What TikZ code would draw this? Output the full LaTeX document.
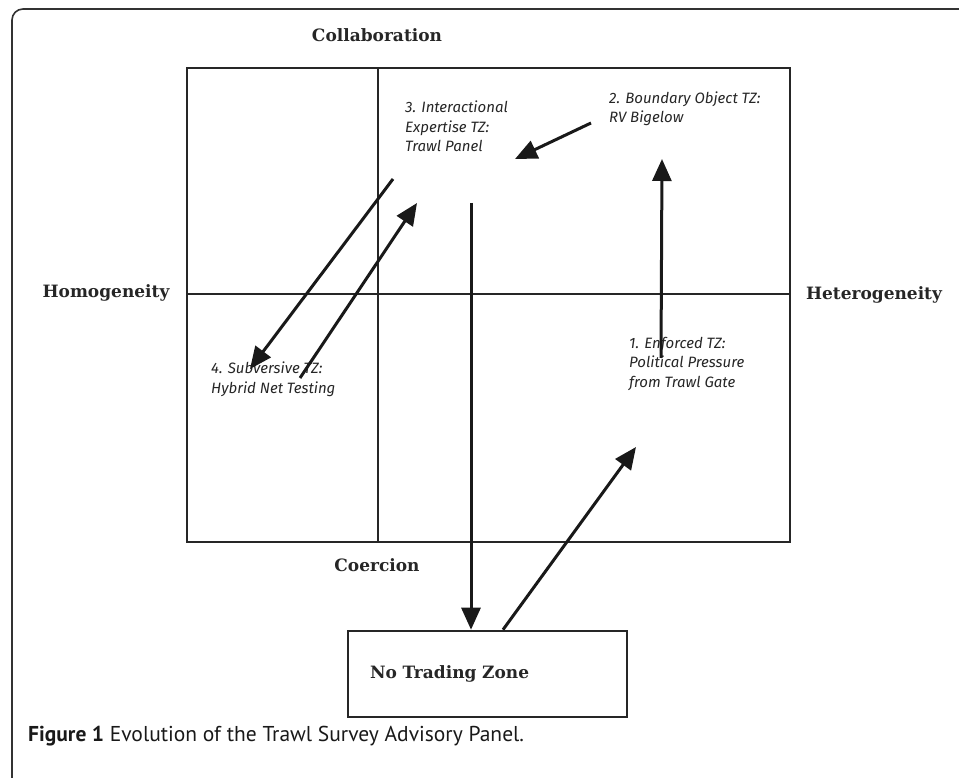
\documentclass[tikz,border=0pt]{standalone}
\usepackage{fontspec}
\newfontfamily\axisfont{DejaVu Serif}
\newfontfamily\zonefont{Fira Sans}
\newfontfamily\capfont{PT Sans}
\usetikzlibrary{arrows.meta,positioning,calc}

\begin{document}
\begin{tikzpicture}[x=1pt, y=-1pt, >={Triangle[length=22pt,width=19pt]}]
\tikzstyle{axis}=[font=\axisfont\bfseries\fontsize{17}{20}\selectfont, text=black!85, anchor=base, inner sep=0pt]
\tikzstyle{zone}=[font=\zonefont\itshape\fontsize{15}{19.5}\selectfont, align=left, anchor=base west, inner sep=0pt, text=black!85]
\tikzstyle{flow}=[->, line width=3pt, black!90]
\tikzstyle{quad}=[line width=2.6pt, black!85]
\tikzstyle{ntzbox}=[draw, quad, minimum width=279pt, minimum height=86pt, text width=235pt, inner xsep=22pt, align=left, font=\axisfont\bfseries\fontsize{17}{20}\selectfont, text=black!85]
\useasboundingbox (0,0) rectangle (959,778);
\begin{scope}
\clip (0,0) rectangle (959,778);
\draw[line width=1.6pt, black!80, rounded corners=11pt] (12,800) -- (12,9) -- (990,9);
\end{scope}

\draw[quad] (187,68) rectangle (790,542);
\draw[quad] (378,68) -- (378,542);
\draw[quad] (187,294) -- (790,294);

\node[axis] (collab) at (377,42)  {Collaboration};
\node[axis] (homog)  at (106,298) {Homogeneity};
\node[axis] (heter)  at (874,299) {Heterogeneity};
\node[axis] (coerc)  at (377,571) {Coercion};

\node[zone] (z3) at (405,152) {3. Interactional\\Expertise TZ:\\Trawl Panel};
\node[zone] (z2) at (609,123) {2. Boundary Object TZ:\\RV Bigelow};
\node[zone] (z4) at (211,393) {4. Subversive TZ:\\Hybrid Net Testing};
\node[zone] (z1) at (629,387) {1. Enforced TZ:\\Political Pressure\\from Trawl Gate};

\node[ntzbox] (ntz) at (487.5,674) {No Trading Zone};

\coordinate (s2) at (591,123);
\coordinate (e3) at (515,159);
\coordinate (s1) at (661,358);
\coordinate (e2) at (662,159);
\coordinate (s3) at (393,179);
\coordinate (e4) at (250,369);
\coordinate (s4) at (300,378);
\coordinate (e3b) at (417,203);
\coordinate (s3b) at (471,203);
\coordinate (sn) at (503,0);
\coordinate (e1) at (636,447);

\draw[flow] (s2) -- (e3);
\draw[flow] (s1) -- (e2);
\draw[flow] (s3) -- (e4);
\draw[flow] (s4) -- (e3b);
\draw[flow] (s3b) -- (s3b |- ntz.north);
\draw[flow] (ntz.north -| sn) -- (e1);

\node[anchor=base west, inner sep=0pt, font=\capfont\fontsize{21.5}{24}\selectfont, text=black!90] (cap) at (28,741) {\textbf{Figure 1} Evolution of the Trawl Survey Advisory Panel.};
\end{tikzpicture}
\end{document}
